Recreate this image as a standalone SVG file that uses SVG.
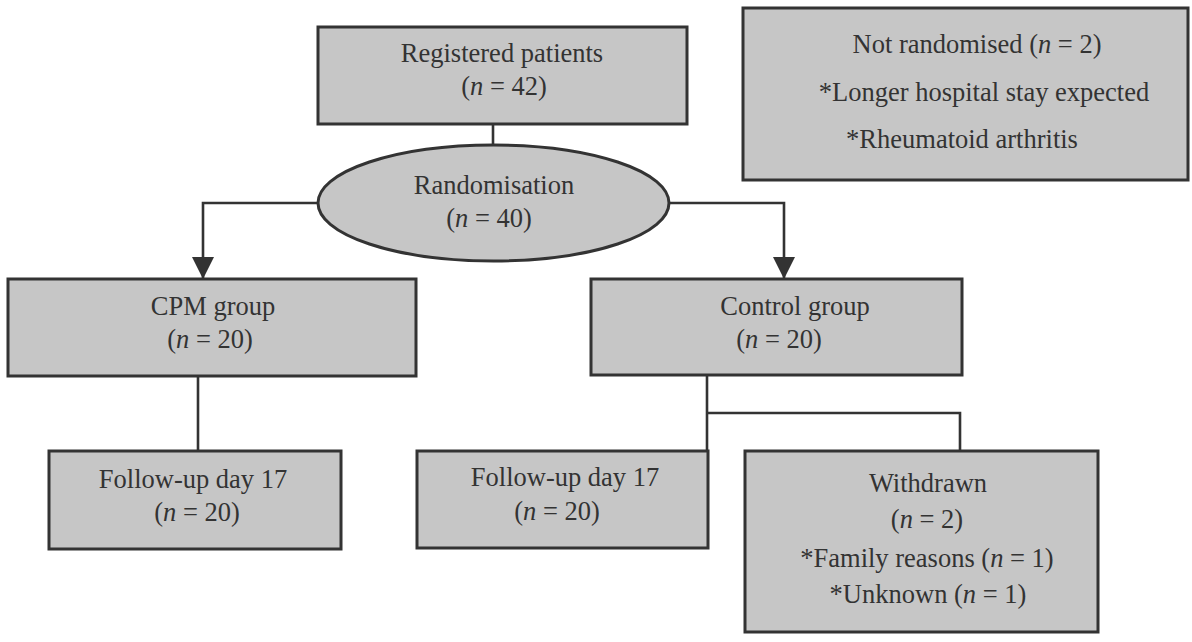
<svg xmlns="http://www.w3.org/2000/svg" width="1192" height="642" viewBox="0 0 1192 642">
<style>
.box{fill:#c6c6c6;stroke:#333;stroke-width:3}
.t{font-family:"Liberation Serif","Times New Roman",serif;font-size:26.5px;fill:#333;text-anchor:middle}
.i{font-style:italic}
.c{fill:none;stroke:#333;stroke-width:2.6}
</style>
<defs>
<marker id="ah" markerWidth="22" markerHeight="22" viewBox="0 0 22 22" refX="22" refY="11" orient="auto" markerUnits="userSpaceOnUse">
<path d="M0,0 L22,11 L0,22 Z" fill="#333"/>
</marker>
</defs>
<rect width="1192" height="642" fill="#fff"/>
<g id="connectors">
<line class="c" x1="493" y1="124" x2="493" y2="145"/>
<polyline class="c" points="318,203 203,203 203,279" marker-end="url(#ah)"/>
<polyline class="c" points="669,203 784,203 784,279" marker-end="url(#ah)"/>
<line class="c" x1="198" y1="376" x2="198" y2="451"/>
<line class="c" x1="707" y1="375" x2="707" y2="451"/>
<polyline class="c" points="707,413 960,413 960,451"/>
</g>
<g id="registered">
<rect class="box" x="318" y="27" width="369" height="97"/>
<text class="t" x="502" y="62">Registered patients</text>
<text class="t" x="504" y="95">(<tspan class="i">n</tspan> = 42)</text>
</g>
<g id="not-randomised">
<rect class="box" x="743" y="8" width="445" height="172"/>
<text class="t" x="977" y="53">Not randomised (<tspan class="i">n</tspan> = 2)</text>
<text class="t" x="984" y="101">*Longer hospital stay expected</text>
<text class="t" x="962" y="148">*Rheumatoid arthritis</text>
</g>
<g id="randomisation">
<ellipse class="box" cx="493.5" cy="203" rx="175.5" ry="58"/>
<text class="t" x="494" y="194">Randomisation</text>
<text class="t" x="489" y="227">(<tspan class="i">n</tspan> = 40)</text>
</g>
<g id="cpm">
<rect class="box" x="8" y="279" width="408" height="97"/>
<text class="t" x="213" y="315">CPM group</text>
<text class="t" x="210" y="348">(<tspan class="i">n</tspan> = 20)</text>
</g>
<g id="control">
<rect class="box" x="591" y="279" width="371" height="96"/>
<text class="t" x="795" y="315">Control group</text>
<text class="t" x="779" y="348">(<tspan class="i">n</tspan> = 20)</text>
</g>
<g id="followup-cpm">
<rect class="box" x="49" y="451" width="292" height="98"/>
<text class="t" x="193" y="488">Follow-up day 17</text>
<text class="t" x="197" y="521">(<tspan class="i">n</tspan> = 20)</text>
</g>
<g id="followup-control">
<rect class="box" x="417" y="451" width="291" height="97"/>
<text class="t" x="565" y="486">Follow-up day 17</text>
<text class="t" x="557" y="520">(<tspan class="i">n</tspan> = 20)</text>
</g>
<g id="withdrawn">
<rect class="box" x="745" y="451" width="353" height="181"/>
<text class="t" x="928" y="492">Withdrawn</text>
<text class="t" x="927" y="528">(<tspan class="i">n</tspan> = 2)</text>
<text class="t" x="927" y="567">*Family reasons (<tspan class="i">n</tspan> = 1)</text>
<text class="t" x="928" y="603">*Unknown (<tspan class="i">n</tspan> = 1)</text>
</g>
</svg>
